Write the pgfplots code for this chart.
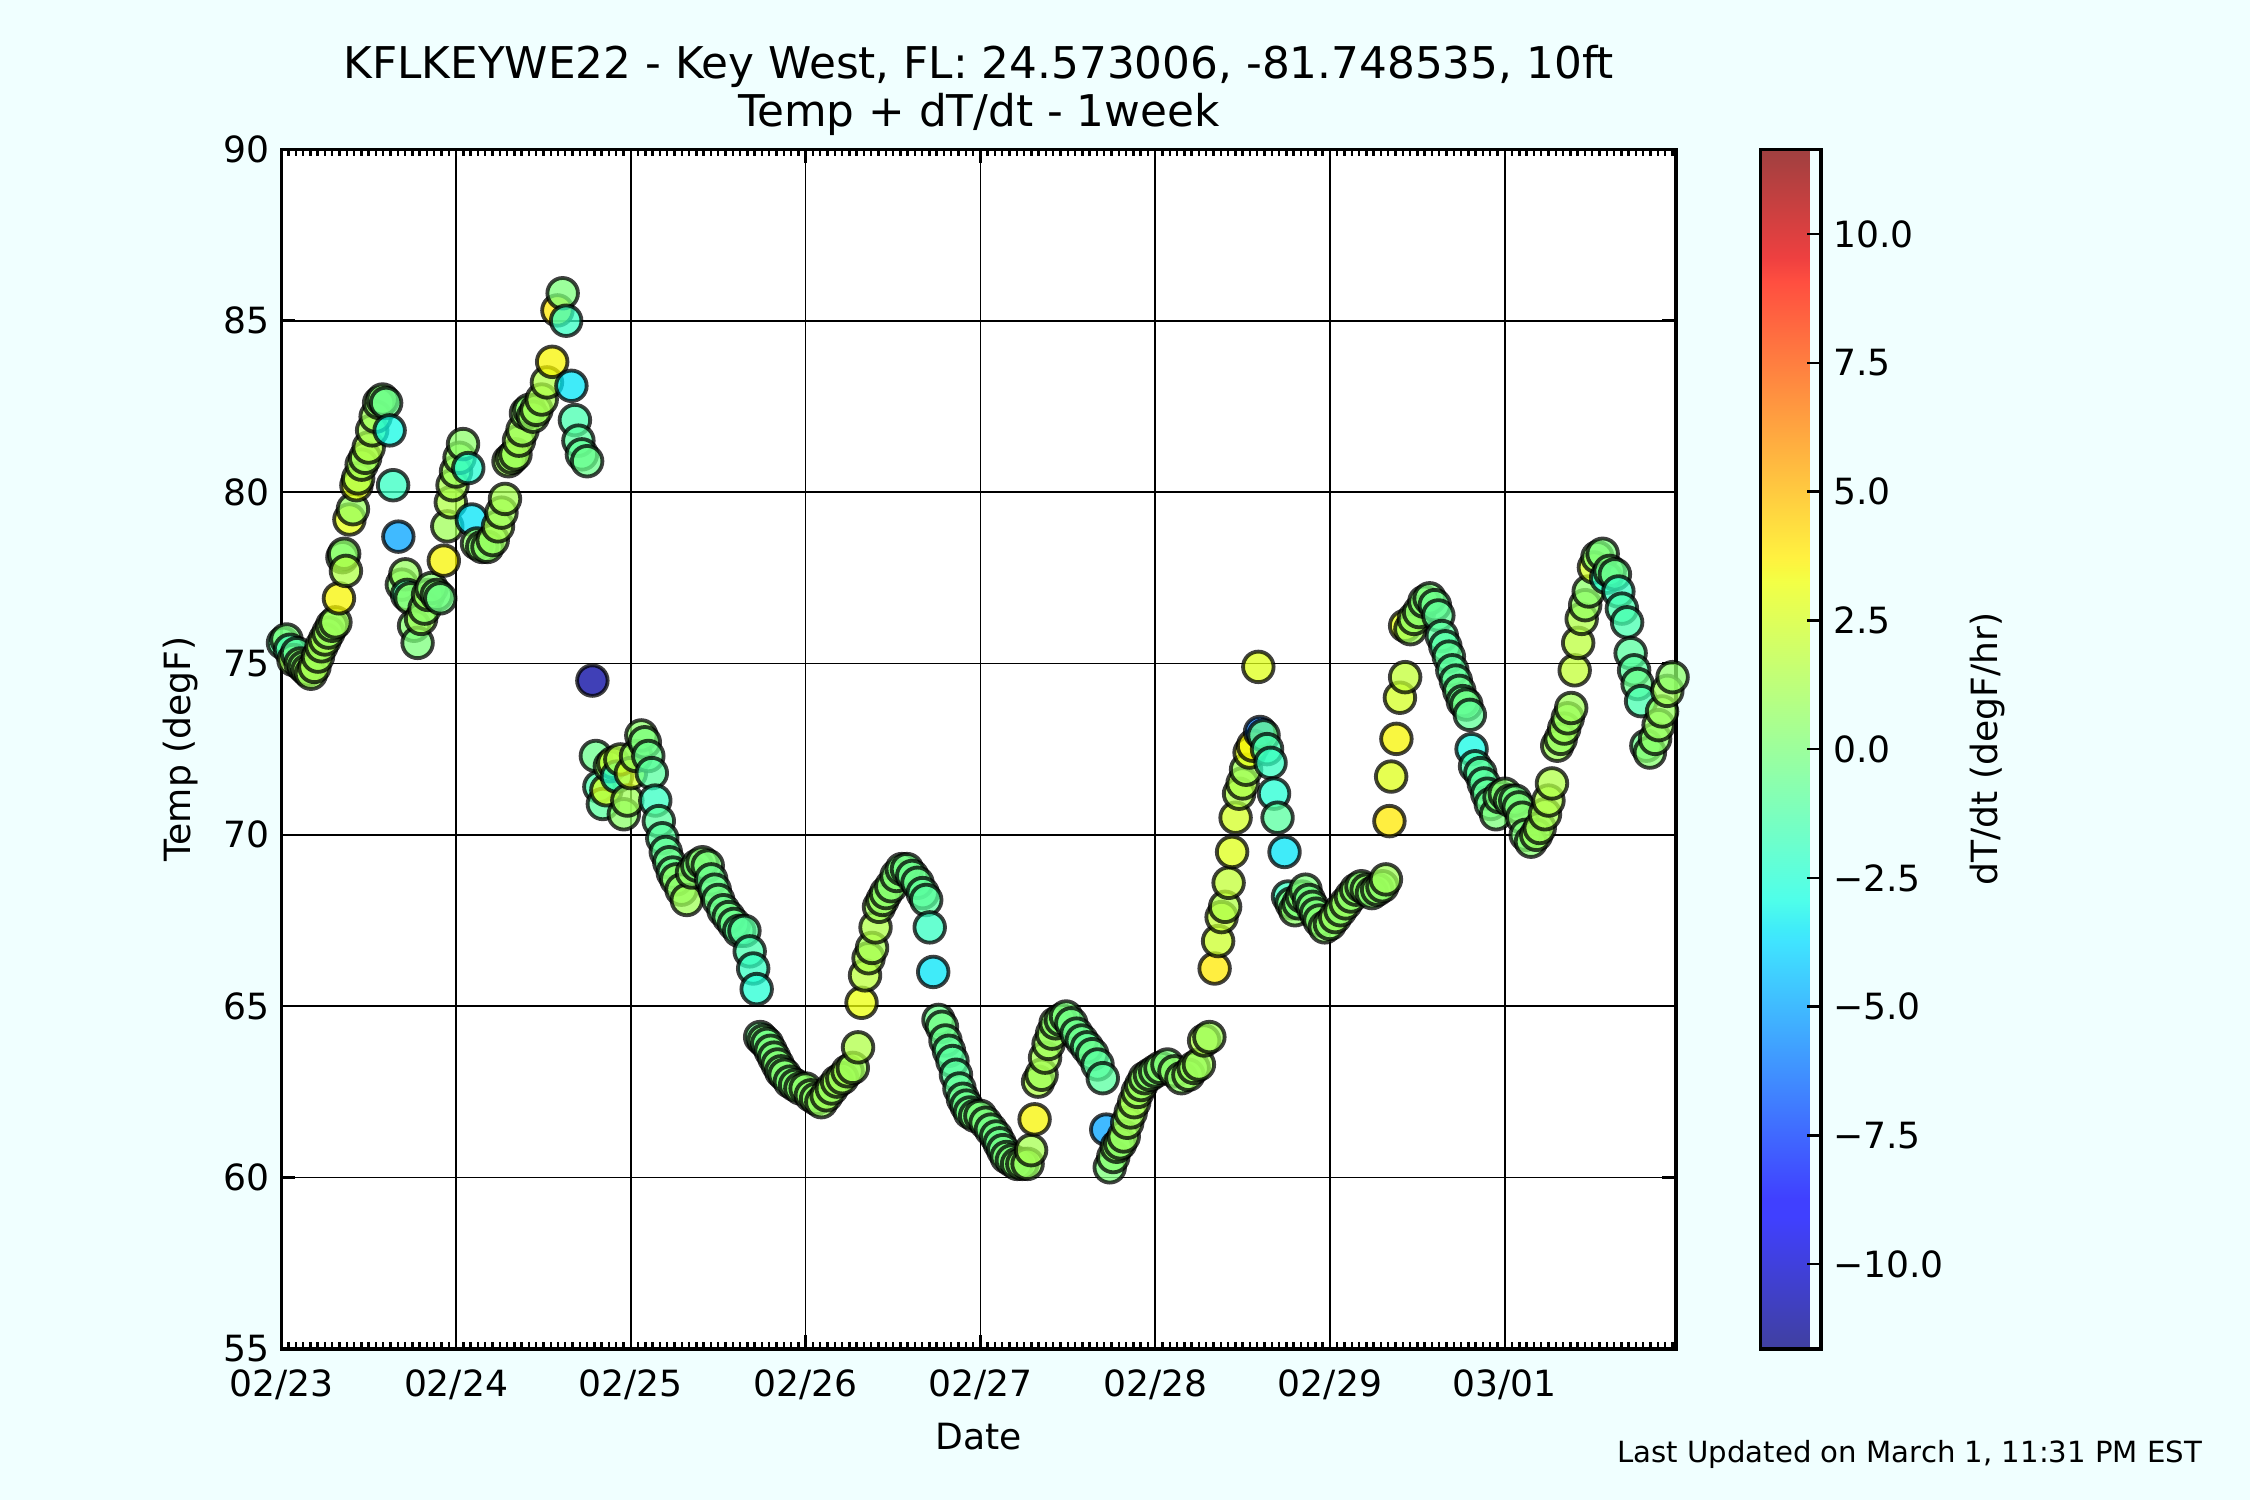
\documentclass[border=0pt]{standalone}
\usepackage{fontspec}
\setmainfont{DejaVu Sans}
\usepackage{pgfplots}
\usepackage{pgfplotstable}
\pgfplotsset{compat=1.18}

\definecolor{figbg}{RGB}{240,255,255}

% matplotlib "jet", and the same blended with 25% white for the colorbar
\pgfplotsset{
  colormap={mjet}{rgb(0pt)=(0,0,0.5) rgb(11pt)=(0,0,1) rgb(12.5pt)=(0,0,1)
    rgb(34pt)=(0,0.86,1) rgb(35pt)=(0,0.9,0.968) rgb(37.5pt)=(0.081,1,0.887)
    rgb(64pt)=(0.935,1,0.032) rgb(65pt)=(0.968,0.963,0) rgb(66pt)=(1,0.926,0)
    rgb(89pt)=(1,0.074,0) rgb(91pt)=(0.909,0,0) rgb(100pt)=(0.5,0,0)},
  colormap={mjetlight}{rgb(0pt)=(0.25,0.25,0.625) rgb(11pt)=(0.25,0.25,1) rgb(12.5pt)=(0.25,0.25,1)
    rgb(34pt)=(0.25,0.895,1) rgb(35pt)=(0.25,0.925,0.976) rgb(37.5pt)=(0.311,1,0.915)
    rgb(64pt)=(0.951,1,0.274) rgb(65pt)=(0.976,0.972,0.25) rgb(66pt)=(1,0.945,0.25)
    rgb(89pt)=(1,0.306,0.25) rgb(91pt)=(0.932,0.25,0.25) rgb(100pt)=(0.625,0.25,0.25)},
}

% d = days since 02/23 00:00, t = temp (degF), r = dT/dt (degF/hr)
\pgfplotstableread{
d t r
0.01 75.6 -1.0
0.03 75.7 0.0
0.05 75.4 -1.5
0.07 75.1 1.0
0.09 75.3 -1.0
0.11 75.0 0.5
0.13 74.9 0.3
0.15 74.8 0.8
0.17 74.7 1.0
0.19 74.9 1.2
0.21 75.2 1.0
0.23 75.5 1.0
0.25 75.7 1.2
0.27 75.9 0.8
0.29 76.1 0.7
0.31 76.2 1.0
0.33 76.9 3.5
0.35 78.1 0.2
0.36 78.2 0.5
0.37 77.7 1.5
0.39 79.2 3.0
0.41 79.5 0.8
0.43 80.2 3.0
0.44 80.4 1.5
0.46 80.8 1.2
0.48 81.0 1.0
0.50 81.3 1.5
0.52 81.8 1.2
0.54 82.2 1.0
0.56 82.6 0.5
0.58 82.7 0.2
0.60 82.6 -0.5
0.62 81.8 -3.0
0.64 80.2 -2.0
0.67 78.7 -5.0
0.69 77.3 0.3
0.71 77.6 0.8
0.72 77.0 -1.5
0.74 76.9 0.5
0.76 76.1 0.3
0.78 75.6 0.0
0.80 76.3 1.0
0.82 76.6 0.5
0.84 77.0 0.8
0.86 77.2 0.3
0.89 77.0 0.0
0.91 76.9 -0.3
0.93 78.0 3.5
0.95 79.0 1.0
0.97 79.7 1.5
0.98 80.2 1.3
1.00 80.6 1.0
1.02 81.0 0.8
1.04 81.4 0.5
1.07 80.7 -2.5
1.09 79.2 -3.5
1.12 78.5 0.5
1.15 78.4 0.3
1.18 78.4 0.5
1.21 78.6 0.8
1.24 79.0 1.2
1.26 79.4 1.0
1.28 79.8 1.2
1.30 80.9 1.0
1.32 81.0 0.8
1.34 81.1 1.0
1.36 81.5 1.2
1.38 81.8 1.0
1.40 82.3 0.5
1.42 82.4 0.3
1.44 82.2 0.8
1.46 82.4 1.0
1.49 82.7 1.2
1.52 83.2 1.5
1.55 83.8 3.5
1.58 85.3 3.8
1.61 85.8 0.0
1.63 85.0 -2.0
1.66 83.1 -3.5
1.68 82.1 -1.5
1.70 81.5 -1.0
1.72 81.1 -0.8
1.75 80.9 -0.5
1.78 74.5 -11.0
1.80 72.3 -0.5
1.82 71.4 -1.5
1.84 70.9 -1.0
1.86 71.3 2.5
1.88 72.0 0.8
1.90 72.1 2.0
1.92 71.7 -2.5
1.94 72.2 1.5
1.96 70.6 0.5
1.98 71.0 1.0
2.00 71.8 2.5
2.03 72.3 0.8
2.06 72.9 0.5
2.08 72.7 0.0
2.10 72.3 -0.5
2.12 71.8 -1.0
2.14 71.0 -2.0
2.16 70.4 -1.0
2.18 69.9 -1.0
2.20 69.5 -0.8
2.22 69.2 -0.5
2.24 68.9 -0.5
2.26 68.7 0.5
2.29 68.4 0.5
2.32 68.1 1.0
2.35 68.9 0.5
2.38 69.1 0.0
2.41 69.2 0.3
2.44 69.1 0.0
2.46 68.7 -0.5
2.48 68.4 -0.5
2.50 68.1 -0.3
2.53 67.8 -0.5
2.56 67.6 -0.3
2.59 67.4 -0.5
2.62 67.2 -0.8
2.65 67.2 -1.0
2.68 66.6 -1.5
2.70 66.1 -2.0
2.72 65.5 -2.5
2.74 64.1 -0.5
2.76 64.0 0.0
2.78 63.9 -0.3
2.80 63.7 0.0
2.82 63.5 0.0
2.84 63.3 0.2
2.86 63.1 0.0
2.88 63.0 0.3
2.91 62.8 0.0
2.94 62.7 0.2
2.97 62.6 0.3
3.00 62.6 0.5
3.03 62.4 0.5
3.06 62.3 0.5
3.09 62.2 0.8
3.12 62.4 1.0
3.15 62.6 0.8
3.18 62.8 1.0
3.21 62.9 1.0
3.24 63.1 1.2
3.27 63.2 1.0
3.30 63.8 1.5
3.32 65.1 3.2
3.34 65.9 1.8
3.36 66.4 1.5
3.38 66.7 1.2
3.40 67.3 1.5
3.42 67.9 1.0
3.44 68.1 0.8
3.46 68.3 0.5
3.49 68.5 0.3
3.52 68.8 0.2
3.55 69.0 0.0
3.58 69.0 -0.3
3.61 68.8 -0.5
3.64 68.6 -0.5
3.67 68.3 -0.8
3.69 68.1 -1.0
3.71 67.3 -2.0
3.73 66.0 -3.5
3.76 64.6 -0.5
3.78 64.4 -0.3
3.80 64.0 -0.5
3.82 63.7 -0.8
3.84 63.4 -1.0
3.86 63.0 -1.0
3.88 62.6 -0.8
3.90 62.3 -0.5
3.92 62.1 -0.5
3.94 61.9 -0.3
3.97 61.8 0.0
4.00 61.8 0.0
4.03 61.6 0.0
4.06 61.4 -0.3
4.09 61.2 -0.3
4.11 61.0 -0.5
4.13 60.8 -0.3
4.15 60.6 0.0
4.18 60.5 0.0
4.21 60.4 0.2
4.24 60.4 0.5
4.27 60.4 0.8
4.29 60.8 1.2
4.31 61.7 3.5
4.33 62.8 1.5
4.35 63.0 1.0
4.37 63.5 1.2
4.39 63.9 1.0
4.41 64.2 0.8
4.43 64.5 0.5
4.46 64.6 0.2
4.49 64.7 0.0
4.52 64.5 -0.3
4.55 64.2 -0.5
4.58 64.0 -0.5
4.61 63.8 -0.8
4.64 63.6 -0.5
4.67 63.3 -1.0
4.70 62.9 -1.0
4.72 61.4 -5.0
4.74 60.3 0.0
4.76 60.6 0.3
4.78 60.9 0.5
4.80 61.0 0.5
4.82 61.2 0.8
4.84 61.6 1.0
4.86 61.9 1.0
4.88 62.2 1.2
4.90 62.5 1.0
4.92 62.7 0.8
4.94 62.9 0.5
4.97 63.0 0.3
5.00 63.1 0.2
5.03 63.2 0.3
5.07 63.3 0.0
5.11 63.1 0.5
5.15 62.9 0.5
5.19 63.0 0.8
5.22 63.2 0.8
5.25 63.3 1.0
5.28 64.0 1.5
5.31 64.1 1.0
5.34 66.1 3.8
5.36 66.9 2.3
5.38 67.6 2.0
5.40 67.9 1.5
5.42 68.6 2.0
5.44 69.5 2.8
5.46 70.5 2.5
5.48 71.2 1.5
5.50 71.5 1.5
5.52 71.9 1.0
5.54 72.4 3.0
5.56 72.6 3.5
5.59 74.9 2.8
5.60 73.0 -6.0
5.62 72.9 -0.5
5.64 72.5 -1.5
5.66 72.1 -2.0
5.68 71.2 -2.5
5.70 70.5 -1.0
5.74 69.5 -3.5
5.76 68.2 -2.0
5.78 68.0 0.0
5.80 67.8 0.5
5.82 68.0 0.0
5.84 68.2 0.2
5.86 68.4 0.0
5.88 68.1 -0.3
5.90 67.9 0.0
5.92 67.7 0.0
5.94 67.5 0.3
5.97 67.3 0.5
6.00 67.4 0.5
6.03 67.6 0.8
6.06 67.8 0.5
6.09 68.0 0.8
6.12 68.2 0.5
6.15 68.4 0.5
6.18 68.5 0.3
6.21 68.4 0.5
6.24 68.3 0.3
6.27 68.4 0.5
6.30 68.5 0.5
6.32 68.7 1.0
6.34 70.4 3.8
6.35 71.7 2.8
6.38 72.8 3.5
6.40 74.0 2.5
6.43 74.6 2.0
6.43 76.1 3.0
6.46 76.0 1.0
6.48 76.3 0.8
6.51 76.5 0.5
6.54 76.8 0.3
6.57 76.9 0.0
6.60 76.7 -0.5
6.62 76.4 -0.8
6.64 75.8 -1.0
6.66 75.5 -1.2
6.68 75.2 -0.8
6.70 74.8 -1.0
6.72 74.5 -0.8
6.74 74.2 -0.5
6.76 73.9 -0.5
6.78 73.8 -0.3
6.80 73.5 -0.8
6.81 72.5 -3.0
6.83 72.0 -1.5
6.86 71.8 -1.0
6.88 71.5 -1.0
6.90 71.2 -0.8
6.92 70.9 -0.5
6.95 70.6 0.0
6.97 71.1 0.0
7.00 71.2 0.3
7.03 71.0 0.0
7.06 71.0 -0.3
7.08 70.8 0.0
7.10 70.5 0.3
7.12 70.0 0.0
7.15 69.8 0.3
7.18 70.0 0.8
7.20 70.2 1.0
7.23 70.6 1.2
7.25 71.0 1.5
7.27 71.5 1.5
7.30 72.6 1.0
7.32 72.8 0.8
7.34 73.1 1.0
7.36 73.4 0.8
7.38 73.7 1.0
7.40 74.8 2.0
7.42 75.6 1.8
7.44 76.3 1.5
7.46 76.7 0.8
7.48 77.1 0.5
7.51 77.8 2.5
7.53 78.1 0.5
7.56 78.2 0.0
7.58 77.5 -2.5
7.60 77.7 0.0
7.63 77.6 -0.5
7.65 77.1 -2.0
7.67 76.6 -1.5
7.70 76.2 -1.5
7.72 75.3 -1.0
7.74 74.8 -1.0
7.76 74.4 -0.5
7.78 73.9 -1.5
7.81 72.6 -0.5
7.83 72.4 0.3
7.86 72.8 0.5
7.88 73.2 0.8
7.90 73.6 0.8
7.93 74.2 1.0
7.96 74.6 0.5
}\tempdata

\begin{document}
\begin{tikzpicture}
\fill[figbg] (0,0) rectangle (648pt,432pt);
\begin{axis}[
  at={(81pt,43.5pt)}, anchor=south west,
  scale only axis, width=401.7pt, height=345.5pt,
  xmin=0, xmax=7.98, ymin=55, ymax=90,
  xtick={0,1,2,3,4,5,6,7},
  xticklabels={02/23,02/24,02/25,02/26,02/27,02/28,02/29,03/01},
  minor xtick={0,0.0416667,...,7.97},
  ytick={55,60,65,70,75,80,85,90},
  yticklabels={55,60,65,70,75,80,85,90},
  grid=major, major grid style={black, line width=0.5pt},
  axis line style={line width=1pt},
  tick style={black, line width=0.7pt},
  major tick length=4pt, minor tick length=2pt,
  tick label style={font=\fontsize{10.4}{12}\selectfont},
  xticklabel style={yshift=-2.5pt},
  axis background/.style={fill=white},
  colormap name=mjet,
  point meta min=-11.65, point meta max=11.65,
  colorbar,
  colorbar style={
    at={(parent axis.north east)}, anchor=north west, xshift=15.8pt,
    width=17.4pt,
    colormap name=mjetlight,
    ytick={-10,-7.5,-5,-2.5,0,2.5,5,7.5,10},
    yticklabels={−10.0,−7.5,−5.0,−2.5,0.0,2.5,5.0,7.5,10.0},
    ytick pos=right, tick align=inside,
    major tick length=4pt,
    axis line style={line width=1pt},
    tick style={black, line width=0.7pt},
    yticklabel style={font=\fontsize{10.4}{12}\selectfont},
  },
]
\addplot[scatter, only marks, mark=*, mark size=4.4pt, scatter src=explicit,
  scatter/use mapped color={draw=black, fill=mapped color},
  mark options={line width=1.1pt, fill opacity=0.75, draw opacity=0.75}]
  table[x=d, y=t, meta=r] {\tempdata};
\end{axis}
\node[anchor=base, font=\fontsize{12.6}{14}\selectfont] at (281.9pt,409.3pt)
  {KFLKEYWE22 - Key West, FL: 24.573006, -81.748535, 10ft};
\node[anchor=base, font=\fontsize{12.6}{14}\selectfont] at (281.9pt,395.6pt)
  {Temp + dT/dt - 1week};
\node[anchor=base, font=\fontsize{10.4}{12}\selectfont] at (281.9pt,14.6pt) {Date};
\node[rotate=90, font=\fontsize{10.4}{12}\selectfont] at (51.9pt,216.3pt) {Temp (degF)};
\node[rotate=90, font=\fontsize{10.4}{12}\selectfont] at (572.4pt,216.3pt) {dT/dt (degF/hr)};
\node[anchor=base east, font=\fontsize{8.4}{10}\selectfont] at (637.7pt,10.8pt)
  {Last Updated on March 1, 11:31 PM EST};
\end{tikzpicture}
\end{document}
